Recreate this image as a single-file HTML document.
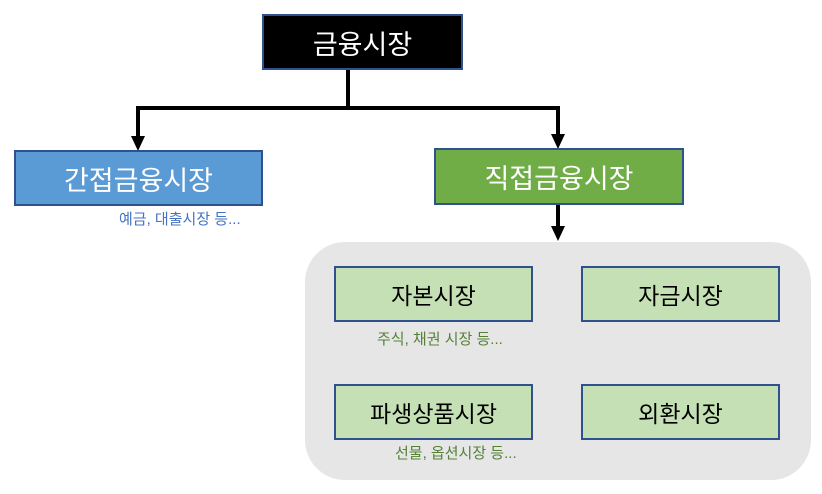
<!DOCTYPE html>
<html><head><meta charset="utf-8"><style>
body{margin:0;width:822px;height:494px;background:#fff;position:relative;overflow:hidden;font-family:"Liberation Sans","Noto Sans CJK KR",sans-serif}
.b{position:absolute;box-sizing:border-box;border:2px solid #2f528f;display:flex;align-items:center;justify-content:center}
.t{position:absolute;font-size:15px;white-space:nowrap}
</style></head><body>
<div style="position:absolute;left:305px;top:242px;width:506px;height:238px;background:#e6e6e6;border-radius:40px"></div>
<svg width="822" height="494" style="position:absolute;left:0;top:0">
<polyline points="348,69 348,108 138,108 138,138" fill="none" stroke="#000" stroke-width="4"/>
<polyline points="348,108 558,108 558,136" fill="none" stroke="#000" stroke-width="4"/>
<polygon points="131,136 145,136 138,151" fill="#000"/>
<polygon points="551,134 565,134 558,149" fill="#000"/>
<line x1="558" y1="204" x2="558" y2="228" stroke="#000" stroke-width="4"/>
<polygon points="551,226 565,226 558,241" fill="#000"/>
</svg>
<div class="b" style="left:262px;top:14px;width:201px;height:56px;background:#000;color:#fff;font-size:27px">금융시장</div>
<div class="b" style="left:14px;top:150px;width:249px;height:56px;background:#5b9bd5;color:#fff;font-size:27px">간접금융시장</div>
<div class="b" style="left:434px;top:148px;width:250px;height:57px;background:#70ad47;color:#fff;font-size:27px">직접금융시장</div>
<div class="t" style="left:119px;top:208px;color:#4472c4">예금, 대출시장 등...</div>
<div class="b" style="left:334px;top:266px;width:199px;height:56px;background:#c5e0b4;color:#000;font-size:23px">자본시장</div>
<div class="b" style="left:581px;top:266px;width:199px;height:56px;background:#c5e0b4;color:#000;font-size:23px">자금시장</div>
<div class="b" style="left:334px;top:384px;width:199px;height:56px;background:#c5e0b4;color:#000;font-size:23px">파생상품시장</div>
<div class="b" style="left:581px;top:384px;width:199px;height:56px;background:#c5e0b4;color:#000;font-size:23px">외환시장</div>
<div class="t" style="left:377px;top:328px;color:#548235">주식, 채권 시장 등...</div>
<div class="t" style="left:395px;top:442px;color:#548235">선물, 옵션시장 등...</div>
</body></html>
